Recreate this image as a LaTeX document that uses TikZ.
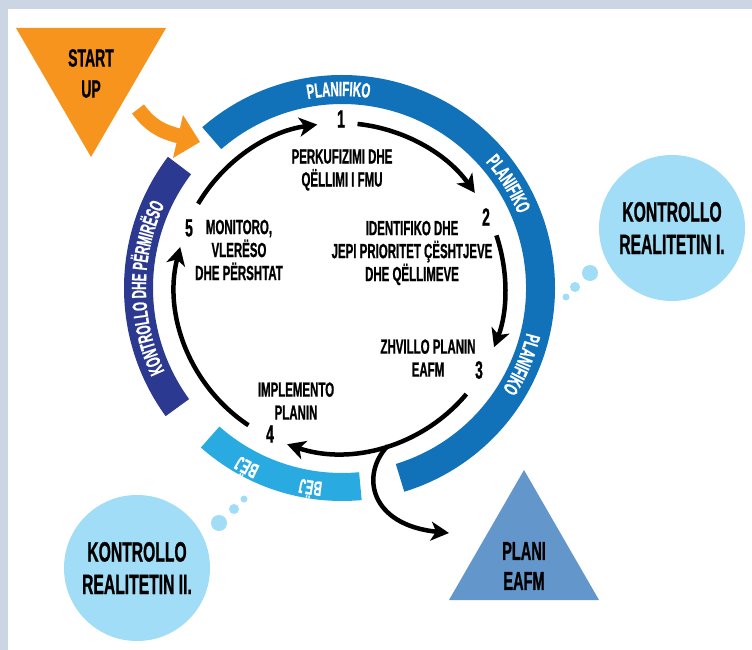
\documentclass[tikz,border=0pt]{standalone}
\usepackage{fontspec}
\setmainfont{Liberation Sans}[FakeStretch=0.56, BoldFeatures={FakeBold=0.8}]
\usetikzlibrary{arrows.meta,decorations.text}
\definecolor{bggray}{HTML}{CBD5E3}
\definecolor{orng}{HTML}{F7941E}
\definecolor{planblue}{HTML}{1172BA}
\definecolor{navy}{HTML}{2B3990}
\definecolor{dobl}{HTML}{29ABE2}
\definecolor{bubble}{HTML}{A1DDF6}
\definecolor{triblue}{HTML}{6397CC}
\newcommand\ringfont{\fontsize{20.5}{24}\selectfont\bfseries}
\begin{document}
\begin{tikzpicture}[x=1pt,y=-1pt,
  lbl/.style={font=\fontsize{20.5}{23}\selectfont\bfseries, align=center, inner sep=0pt},
  num/.style={font=\fontsize{25}{28}\selectfont\bfseries, inner sep=0pt},
  big/.style={font=\fontsize{25}{31}\selectfont\bfseries, align=center, inner sep=0pt},
  bub/.style={circle, fill=bubble, inner sep=0pt, minimum size=146pt,
              font=\fontsize{28}{32.5}\selectfont\bfseries, align=center},
  dot/.style={circle, fill=bubble, inner sep=0pt},
  cyc/.style={line width=4.5pt, -{Stealth[length=18pt, width=19pt, inset=5pt]}},
  ringtxt/.style={decorate, decoration={text along path, text align=center, text={|\ringfont\color{white}|#1}}}
]
\useasboundingbox (0,0) rectangle (752,650);
\fill[bggray] (0,0) rectangle (752,650);
\fill[white] (8,9) rectangle (752,650);

% start triangle
\fill[orng] (16,28) -- (166,28) -- (91,157) -- cycle;
\node[big] (start) at (91,73.5) {START\\UP};

% orange arrow
\draw[orng, line width=15pt] (138,109) .. controls (150,125) and (160,131) .. (179,136);
\fill[orng] (183,115) -- (200,142) -- (173,158) -- cycle;

% ring
\begin{scope}[shift={(342,288)}]
  \fill[planblue] (131:213pt) arc[start angle=131, end angle=-73, radius=213pt]
     -- (-73:184pt) arc[start angle=-73, end angle=131, radius=184pt] -- cycle;
  \fill[navy] (143:218pt) arc[start angle=143, end angle=216, radius=218pt]
     -- (216:189pt) arc[start angle=216, end angle=143, radius=189pt] -- cycle;
  \fill[dobl] (228.5:213pt) arc[start angle=228.5, end angle=275.3, radius=213pt]
     -- (275.3:185pt) arc[start angle=275.3, end angle=228.5, radius=185pt] -- cycle;
  \path[ringtxt=PLANIFIKO] (111:192pt) arc[start angle=111, end angle=71, radius=192pt];
  \path[ringtxt=PLANIFIKO] (52:191pt) arc[start angle=52, end angle=12, radius=191pt];
  \path[ringtxt=PLANIFIKO] (-3:190pt) arc[start angle=-3, end angle=-43, radius=190pt];
  \path[ringtxt={KONTROLLO DHE PËRMIRËSO}] (216:196pt) arc[start angle=216, end angle=144, radius=196pt];
  \path[ringtxt=BËJ] (254:196pt) arc[start angle=254, end angle=230, radius=196pt];
  \path[ringtxt=BËJ] (273:195pt) arc[start angle=273, end angle=249, radius=195pt];
\end{scope}

% cycle arrows
\begin{scope}[shift={(340,288)}]
  \coordinate (a5) at (149.3:165pt);
  \coordinate (a1) at (83.9:165pt);
  \coordinate (a2) at (18.6:165pt);
  \coordinate (a3) at (-40:165pt);
  \coordinate (a4) at (-123.7:165pt);
  \coordinate (split) at (-73.2:165pt);
  \draw[cyc] (a5) arc[start angle=149.3, end angle=97.9, radius=165pt];
  \draw[cyc] (a1) arc[start angle=83.9, end angle=35.2, radius=165pt];
  \draw[cyc] (a2) arc[start angle=18.6, end angle=-21, radius=165pt];
  \draw[cyc] (a3) arc[start angle=-40, end angle=-108.7, radius=165pt];
  \draw[cyc] (a4) arc[start angle=-123.7, end angle=-194.4, radius=165pt];
\end{scope}
\coordinate (planin) at (449,533);
\draw[cyc] (split) .. controls (360,475) and (370,525) .. (planin);

% numbers
\node[num] (n1) at (341,119) {1};
\node[num] (n2) at (486,217) {2};
\node[num] (n3) at (479,370) {3};
\node[num] (n4) at (270,434) {4};
\node[num] (n5) at (189,228) {5};

% step labels
\node[lbl] (t1) at (342,170) {PERKUFIZIMI DHE\\QËLLIMI I FMU};
\node[lbl] (t2) at (412,253) {IDENTIFIKO DHE\\JEPI PRIORITET ÇËSHTJEVE\\DHE QËLLIMEVE};
\node[lbl] (t3) at (428,358) {ZHVILLO PLANIN\\EAFM};
\node[lbl] (t4) at (296,401) {IMPLEMENTO\\PLANIN};
\node[lbl] (t5) at (239,250) {MONITORO,\\VLERËSO\\DHE PËRSHTAT};

% bubbles
\node[bub] (k1) at (672,228) {KONTROLLO\\REALITETIN I.};
\node[dot, minimum size=16pt] (k1a) at (590,273) {};
\node[dot, minimum size=10pt] (k1b) at (575,287) {};
\node[dot, minimum size=7pt] (k1c) at (566,297) {};

\node[bub] (k2) at (137,568) {KONTROLLO\\REALITETIN II.};
\node[dot, minimum size=16pt] (k2a) at (219,523) {};
\node[dot, minimum size=10pt] (k2b) at (234,509) {};
\node[dot, minimum size=7pt] (k2c) at (244,499) {};

% plan triangle
\fill[triblue] (449,600) -- (599,600) -- (524,470) -- cycle;
\node[big, font=\fontsize{26}{30}\selectfont\bfseries] (plan) at (524,566) {PLANI\\EAFM};
\end{tikzpicture}
\end{document}
